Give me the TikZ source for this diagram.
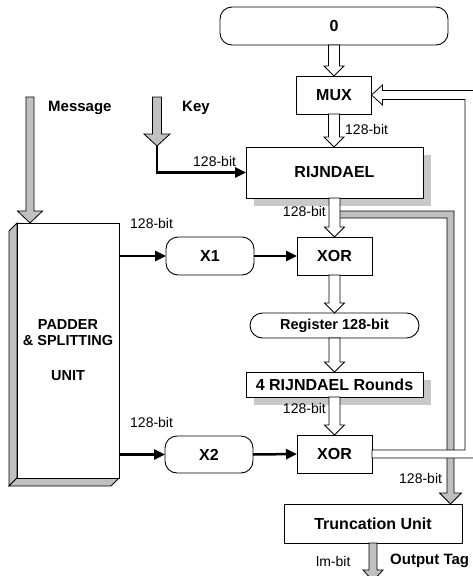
\documentclass[tikz,border=0pt]{standalone}
\usepackage{fontspec}
\setmainfont{Liberation Sans}
\usetikzlibrary{arrows.meta,calc,shadows}
\definecolor{gfill}{HTML}{C0C0C0}
\definecolor{shd}{HTML}{C8C8C8}
\newcommand\blockarr[6]{%
\filldraw[blk, fill=#1] let \p1=#2, \p2=#3 in (\x1-#4,\y1) -- (\x1-#4,\y2+#6) -- (\x1-#5,\y2+#6) -- (\x1,\y2) -- (\x1+#5,\y2+#6) -- (\x1+#4,\y2+#6) -- (\x1+#4,\y1) -- cycle;}
\tikzset{
  blk/.style={draw=black, line width=0.8pt, line join=miter},
  box/.style={draw=black, line width=0.9pt, fill=white, inner sep=0pt, outer sep=0pt, font=\bfseries\fontsize{16}{18}\selectfont, align=center},
  rbox/.style={box, rounded corners=12pt},
  shbox/.style={box, drop shadow={shadow xshift=8pt, shadow yshift=-8pt, fill=shd, opacity=1}},
  lbl/.style={font=\fontsize{14}{16}\selectfont, inner sep=0pt},
  blbl/.style={font=\bfseries\fontsize{15}{17}\selectfont, inner sep=0pt},
  thk/.style={line width=2.5pt, -{Triangle[length=11pt,width=10pt]}}
}
\begin{document}
\begin{tikzpicture}[x=1pt,y=-1pt]
\useasboundingbox (0,0) rectangle (472,576);
% nodes
\node[rbox, minimum width=228pt, minimum height=38pt] (zero) at (334,26) {0};
\node[box, minimum width=75pt, minimum height=38pt] (mux) at (334,95) {MUX};
\node[shbox, minimum width=177pt, minimum height=51pt] (rij) at (334.5,172.5) {RIJNDAEL};
\node[box, minimum width=75pt, minimum height=38pt] (xor1) at (334.5,256) {XOR};
\node[rbox, minimum width=88pt, minimum height=38pt] (x1) at (210,256) {X1};
\node[box, rounded corners=12.5pt, minimum width=169pt, minimum height=25pt, font=\bfseries\fontsize{14.5}{16}\selectfont] (reg) at (334.5,325.5) {Register 128-bit};
\node[shbox, minimum width=177pt, minimum height=25pt] (rounds) at (334.5,384.5) {4 RIJNDAEL Rounds};
\node[box, minimum width=75pt, minimum height=38pt] (xor2) at (334.5,454) {XOR};
\node[rbox, minimum width=88pt, minimum height=37pt] (x2) at (209,454.5) {X2};
\node[box, minimum width=178pt, minimum height=39pt] (trunc) at (373,523.5) {Truncation Unit};
% padder 3D box
\filldraw[blk, fill=gfill] (9,231) -- (17,223) -- (17,478) -- (9,486) -- cycle;
\filldraw[blk, fill=gfill] (9,486) -- (17,478) -- (119,478) -- (111,486) -- cycle;
\node[box, minimum width=102pt, minimum height=255pt, font=\bfseries\fontsize{14.5}{17}\selectfont] (padder) at (68,350.5) {PADDER\\[-1pt]\& SPLITTING\\[18pt]UNIT};
% gray path from RIJNDAEL output to truncation unit
\filldraw[blk, fill=gfill] let \p1=(rij.south), \p2=(trunc.north) in (\x1,\y1-13pt) -- (454pt,\y1-13pt) -- (454pt,\y2+11pt) -- (461.5pt,\y2+11pt) -- (450.5pt,\y2) -- (439.5pt,\y2+11pt) -- (447pt,\y2+11pt) -- (447pt,\y1-20pt) -- (\x1,\y1-20pt) -- cycle;
% feedback hollow path XOR2 -> MUX
\filldraw[blk, fill=white] let \p1=(xor2.east), \p2=(mux.east) in (\x1,\y1+4pt) -- (465pt,\y1+4pt) -- (465pt,\y2-4.5pt) -- (\x2+11pt,\y2-4.5pt) -- (\x2+11pt,\y2-10pt) -- (\x2,\y2) -- (\x2+11pt,\y2+10pt) -- (\x2+11pt,\y2+4.5pt) -- (476pt,\y2+4.5pt) -- (476pt,\y1-4pt) -- (\x1,\y1-4pt) -- cycle;
% hollow arrows
\blockarr{white}{(zero.south)}{(mux.north)}{5.5pt}{10pt}{10pt}
\blockarr{white}{(mux.south)}{(rij.north)}{5.5pt}{10pt}{10pt}
\blockarr{white}{(rij.south)}{(xor1.north)}{5.5pt}{10pt}{10pt}
\blockarr{white}{(xor1.south)}{(reg.north)}{5.5pt}{10pt}{10pt}
\blockarr{white}{(reg.south)}{(rounds.north)}{5.5pt}{10pt}{10pt}
\blockarr{white}{(rounds.south)}{(xor2.north)}{5.5pt}{10pt}{10pt}
% gray input/output arrows
\coordinate (msgsrc) at (30,97);
\coordinate (msgtip) at ($(padder.north west)+(13,0)$);
\coordinate (keysrc) at (157,97);
\coordinate (keytip) at (157,146);
\coordinate (outend) at (373,581);
\blockarr{gfill}{(msgsrc)}{(msgtip)}{4pt}{12.5pt}{12pt}
\blockarr{gfill}{(keysrc)}{(keytip)}{4.5pt}{13pt}{12pt}
\blockarr{gfill}{(trunc.south)}{(outend)}{4pt}{10pt}{11pt}
% black arrows
\draw[thk] (keytip) |- (rij.west);
\draw[thk] (padder.east |- x1.west) -- (x1.west);
\draw[thk] (x1.east) -- (xor1.west);
\draw[thk] (padder.east |- x2.west) -- (x2.west);
\draw[thk] (x2.east) -- (xor2.west);
% labels
\node[blbl, anchor=west] (lmsg) at (48,108) {Message};
\node[blbl, anchor=west] (lkey) at (182,108) {Key};
\node[lbl, anchor=west] (l1) at (345,129) {128-bit};
\node[lbl, anchor=west] (l2) at (193,161) {128-bit};
\node[lbl, anchor=east] (l3) at (326,211) {128-bit};
\node[lbl, anchor=west] (l4) at (130,223) {128-bit};
\node[lbl, anchor=east] (l5) at (326,408) {128-bit};
\node[lbl, anchor=west] (l6) at (130,422) {128-bit};
\node[lbl, anchor=west] (l7) at (399,478) {128-bit};
\node[lbl, anchor=west] (l8) at (316,561) {lm-bit};
\node[blbl, anchor=west] (ltag) at (390,561) {Output Tag};
\end{tikzpicture}
\end{document}
